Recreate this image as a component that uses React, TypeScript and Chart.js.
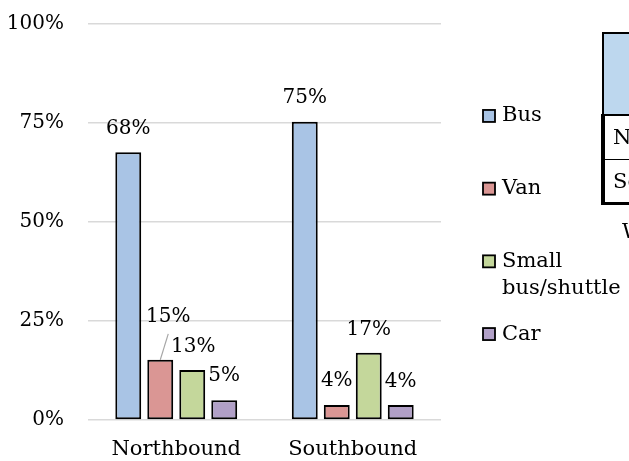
import React, { useEffect, useRef } from "react";
import { Chart, registerables } from "chart.js";

Chart.register(...registerables);

const categories = ["Northbound", "Southbound"];
const seriesNames = ["Bus", "Van", "Small bus/shuttle", "Car"];
const legendLines = [["Bus"], ["Van"], ["Small", "bus/shuttle"], ["Car"]];
const busValues = [67.6, 75.3];
const vanValues = [15.2, 3.8];
const smallBusValues = [12.6, 17.0];
const carValues = [5.0, 3.8];
const seriesColors = ["#A9C4E5", "#DA9694", "#C4D79B", "#B1A0C7"];
const yTicks = [0, 25, 50, 75, 100];
const tableRows = ["Northbound", "Southbound"];
const tableNote = "Weekday";

// label offsets in px (dx, dy) per series per category
const labelDx = [[0, 0], [8, 0], [1, 0], [0, 0]];
const labelDy = [[0, 0], [-19, 0], [1, 1], [0, 1]];

const SERIF = "'DejaVu Serif', serif";

const labelPlugin = {
  id: "barLabels",
  afterDatasetsDraw(chart: any) {
    const ctx = chart.ctx;
    ctx.save();
    ctx.font = `20px ${SERIF}`;
    ctx.fillStyle = "#000";
    ctx.textAlign = "center";
    ctx.textBaseline = "middle";
    chart.data.datasets.forEach((ds: any, di: number) => {
      const meta = chart.getDatasetMeta(di);
      meta.data.forEach((el: any, i: number) => {
        const v = ds.data[i];
        const dx = labelDx[di][i];
        const dy = labelDy[di][i];
        const lx = el.x + dx;
        const ly = el.y - 24 + dy;
        if (dy < -5) {
          ctx.save();
          ctx.strokeStyle = "#A6A6A6";
          ctx.lineWidth = 1.2;
          ctx.beginPath();
          ctx.moveTo(el.x, el.y);
          ctx.lineTo(lx, ly + 17);
          ctx.stroke();
          ctx.restore();
        }
        ctx.fillText(Math.round(v) + "%", lx, ly);
      });
    });
    ctx.restore();
  },
};

const legendPlugin = {
  id: "customLegend",
  afterDraw(chart: any) {
    const ctx = chart.ctx;
    const area = chart.chartArea;
    const x0 = area.right + 42;
    const step = 72.7;
    const mid = (area.top + area.bottom) / 2 + 3;
    const n = legendLines.length;
    ctx.save();
    ctx.font = `21px ${SERIF}`;
    ctx.textAlign = "left";
    ctx.textBaseline = "middle";
    legendLines.forEach((lines, i) => {
      const cy = mid + (i - (n - 1) / 2) * step;
      ctx.fillStyle = seriesColors[i];
      ctx.fillRect(x0, cy - 6, 12, 12);
      ctx.strokeStyle = "#000";
      ctx.lineWidth = 1.8;
      ctx.strokeRect(x0, cy - 6, 12, 12);
      ctx.fillStyle = "#000";
      lines.forEach((t, j) => {
        ctx.fillText(t, x0 + 19, cy + j * 27);
      });
    });
    ctx.restore();
  },
};

export default function App() {
  const ref = useRef<HTMLCanvasElement>(null);
  useEffect(() => {
    if (!ref.current) return;
    const values = [busValues, vanValues, smallBusValues, carValues];
    const chart = new Chart(ref.current, {
      type: "bar",
      data: {
        labels: categories,
        datasets: seriesNames.map((name, i) => ({
          label: name,
          data: values[i],
          backgroundColor: seriesColors[i],
          borderColor: "#000",
          borderWidth: 2,
          borderSkipped: false,
          categoryPercentage: 0.725,
          barPercentage: 0.81,
        })),
      },
      options: {
        responsive: false,
        animation: false,
        events: [],
        layout: { padding: { top: 24, right: 188, left: 0, bottom: 0 } },
        plugins: {
          legend: { display: false },
          tooltip: { enabled: false },
        },
        scales: {
          x: {
            grid: { display: false, drawTicks: false },
            border: { display: false },
            ticks: {
              font: { family: SERIF, size: 21 },
              color: "#000",
              padding: 17,
            },
            afterFit: (s: any) => {
              s.height = 41;
            },
          },
          y: {
            min: 0,
            max: 100,
            afterBuildTicks: (s: any) => {
              s.ticks = yTicks.map((v) => ({ value: v }));
            },
            ticks: {
              font: { family: SERIF, size: 20 },
              color: "#000",
              padding: 24,
              callback: (v: any) => v + "%",
            },
            grid: { color: "#D9D9D9", lineWidth: 1.5, drawTicks: false },
            border: { display: false },
            afterFit: (s: any) => {
              s.width = 88;
              s.paddingTop = 0;
              s.paddingBottom = 0;
            },
          },
        },
      },
      plugins: [labelPlugin, legendPlugin],
    });
    return () => chart.destroy();
  }, []);

  const cellFont: React.CSSProperties = {
    fontFamily: SERIF,
    fontSize: 21,
    color: "#000",
    whiteSpace: "nowrap",
  };

  return (
    <div
      style={{
        position: "fixed",
        left: 0,
        top: 0,
        width: 629,
        height: 461,
        overflow: "hidden",
        background: "#fff",
      }}
    >
      <canvas ref={ref} width={629} height={461} style={{ display: "block" }} />
      <div
        style={{
          position: "absolute",
          left: 602,
          top: 32,
          width: 200,
          height: 81,
          background: "#BDD7EE",
          borderTop: "2px solid #000",
          borderLeft: "2px solid #000",
        }}
      />
      <div
        style={{
          position: "absolute",
          left: 601,
          top: 114,
          width: 200,
          borderTop: "2px solid #000",
          borderLeft: "4px solid #000",
          borderBottom: "3px solid #000",
          background: "#fff",
        }}
      >
        {tableRows.map((r, i) => (
          <div
            key={r}
            style={{
              ...cellFont,
              height: i === 0 ? 43 : 42,
              lineHeight: (i === 0 ? 43 : 42) + "px",
              paddingLeft: 8,
              borderTop: i === 0 ? "none" : "1px solid #000",
            }}
          >
            {r}
          </div>
        ))}
      </div>
      <div
        style={{
          ...cellFont,
          position: "absolute",
          left: 622,
          top: 217,
          lineHeight: "28px",
        }}
      >
        {tableNote}
      </div>
    </div>
  );
}
